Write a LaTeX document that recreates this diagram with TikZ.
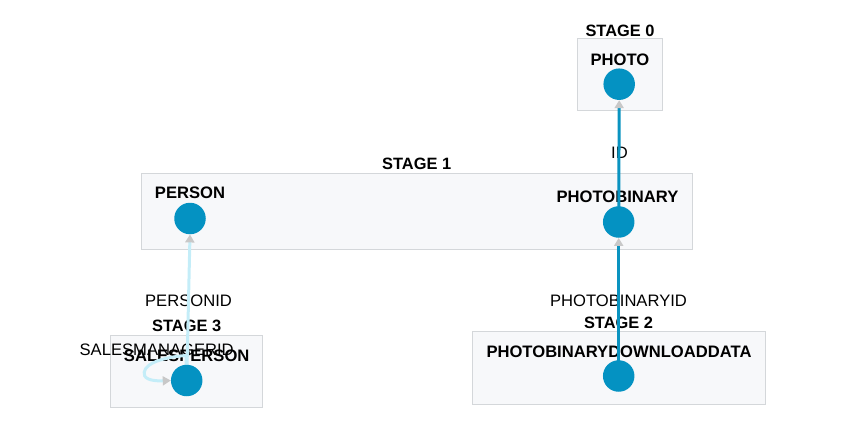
\documentclass[tikz,border=0pt]{standalone}
\usepackage{fontspec}
\setmainfont{Liberation Sans}
\usetikzlibrary{arrows.meta,calc}
\definecolor{boxfill}{HTML}{F7F8FA}
\definecolor{boxline}{HTML}{D4D7DA}
\definecolor{dotblue}{HTML}{0492C2}
\definecolor{darkline}{HTML}{0A93C0}
\definecolor{lightline}{HTML}{C4EDF8}
\definecolor{tipgray}{HTML}{C8C8C8}
\tikzset{
  stagebox/.style={draw=boxline, fill=boxfill, line width=1pt},
  stagelabel/.style={font=\fontsize{16.4}{18}\selectfont\bfseries, inner sep=0pt},
  tablelabel/.style={font=\fontsize{16.6}{18}\selectfont\bfseries, inner sep=0pt},
  edgelabel/.style={font=\fontsize{16.6}{18}\selectfont, inner sep=0pt},
  dot/.style={circle, fill=dotblue, minimum size=31.5pt, inner sep=0pt},
  tipstyle/.style={-{Triangle[width=9pt,length=8pt,color=tipgray]}},
  darkedge/.style={draw=darkline, line width=3pt, tipstyle},
  lightedge/.style={draw=lightline, line width=3pt, tipstyle},
}
\begin{document}
\begin{tikzpicture}[x=1pt,y=-1pt]
\useasboundingbox (0,0) rectangle (847,428);
% boxes
\draw[stagebox] (577.3,38.5) rectangle (662.7,110.5);
\draw[stagebox] (141.8,173.3) rectangle (692.5,249);
\draw[stagebox] (472.7,331.7) rectangle (765.5,404);
\draw[stagebox] (110.8,335) rectangle (262.3,407.5);
% stage labels
\node[stagelabel] (s0) at (620,30.5) {STAGE 0};
\node[stagelabel] (s1) at (416.7,163.7) {STAGE 1};
\node[stagelabel] (s2) at (618.5,322.8) {STAGE 2};
\node[stagelabel] (s3) at (186.7,326) {STAGE 3};
% table labels
\node[tablelabel] (lphoto) at (620,59.7) {PHOTO};
\node[tablelabel] (lperson) at (190,193) {PERSON};
\node[tablelabel] (lpb) at (617.5,197) {PHOTOBINARY};
\node[tablelabel] (lpbd) at (619,352) {PHOTOBINARYDOWNLOADDATA};
\node[tablelabel] (lsp) at (186.7,355.5) {SALESPERSON};
% edge labels
\node[edgelabel] (eid) at (619.5,153) {ID};
\node[edgelabel] (epbid) at (618.5,301) {PHOTOBINARYID};
\node[edgelabel] (epid) at (188.5,300.5) {PERSONID};
\node[edgelabel] (esm) at (156.7,350) {SALESMANAGERID};
% dot anchors
\node[dot, fill=none] (photo) at (619.2,84.2) {};
\node[dot, fill=none] (person) at (190,218.5) {};
\node[dot, fill=none] (pb) at (618.7,222) {};
\node[dot, fill=none] (pbd) at (618.7,376) {};
\node[dot, fill=none] (sp) at (186.7,380.5) {};
% edges
\draw[darkedge] (pb.center) -- (photo.south);
\draw[darkedge] (pbd.center) -- (pb.south);
\draw[lightedge] (sp.center) -- (person.south);
\draw[lightedge] (sp.center) -- ($(sp.center)+(-0.7,-25)$)
  .. controls ($(sp.center)+(-28,-23)$) and ($(sp.center)+(-46,-15)$) .. ($(sp.center)+(-42,-4.5)$)
  .. controls ($(sp.center)+(-39,0.5)$) and ($(sp.center)+(-28,0.5)$) .. (sp.west);
% dots
\fill[dotblue] (photo) circle (15.75pt);
\fill[dotblue] (person) circle (15.75pt);
\fill[dotblue] (pb) circle (15.75pt);
\fill[dotblue] (pbd) circle (15.75pt);
\fill[dotblue] (sp) circle (15.75pt);
\end{tikzpicture}
\end{document}
